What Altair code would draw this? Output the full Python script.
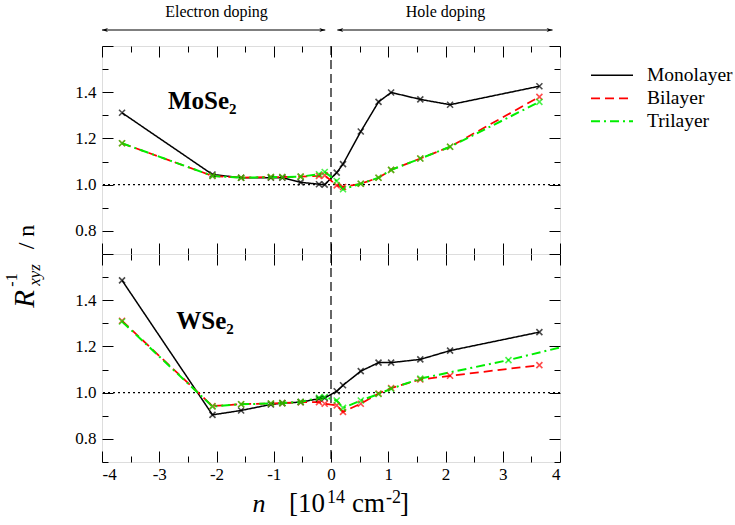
import altair as alt
import pandas as pd

# ---------------- data ----------------
series = ["Monolayer", "Bilayer", "Trilayer"]
colors = ["#000000", "#ff0000", "#00ee00"]
dashes = [[1, 0], [9, 5], [9, 4, 2, 4]]
widths = [1.5, 2.0, 2.0]

# carrier density n [10^14 cm^-2]
n_pts = [-3.65, -2.07, -1.57, -1.05, -0.85, -0.53, -0.21, -0.11,
         0.10, 0.21, 0.52, 0.83, 1.05, 1.56, 2.08, 3.64]

mose2_mono = [1.311, 1.044, 1.030, 1.030, 1.030, 1.010, 1.002, 1.000,
              1.052, 1.089, 1.230, 1.358, 1.399, 1.369, 1.346, 1.426]
mose2_bi = [1.179, 1.038, 1.030, 1.033, 1.033, 1.035, 1.038, 1.040,
            0.997, 0.990, 1.004, 1.030, 1.064, 1.113, 1.164, 1.380]
mose2_tri = [1.179, 1.038, 1.030, 1.033, 1.033, 1.035, 1.045, 1.055,
             1.016, 0.980, 1.004, 1.030, 1.064, 1.113, 1.164, 1.358]

wse2_mono = [1.486, 0.904, 0.923, 0.949, 0.955, 0.959, 0.974, 0.977,
             1.006, 1.032, 1.093, 1.130, 1.130, 1.144, 1.182, 1.262]
wse2_bi = [1.311, 0.942, 0.950, 0.953, 0.955, 0.959, 0.959, 0.952,
           0.945, 0.917, 0.952, 0.996, 1.020, 1.057, 1.073, 1.119]
wse2_tri_n = [-3.65, -2.07, -1.57, -1.05, -0.85, -0.53, -0.21, -0.11,
              0.10, 0.21, 0.52, 0.83, 1.05, 1.56, 3.10, 4.60]
wse2_tri = [1.308, 0.940, 0.950, 0.953, 0.955, 0.960, 0.978, 0.981,
            0.966, 0.934, 0.966, 0.994, 1.017, 1.061, 1.141, 1.232]

x_major = [-4, -3, -2, -1, 0, 1, 2, 3, 4]
x_minor = [-3.5, -2.5, -1.5, -0.5, 0.5, 1.5, 2.5, 3.5]
y_major = [0.8, 1.0, 1.2, 1.4, 1.6]
y_minor = [0.7, 0.9, 1.1, 1.3, 1.5]
y_labels = [0.8, 1.0, 1.2, 1.4]

doping_labels = ["Electron doping", "Hole doping"]
doping_start = [-4.0, 0.11]
doping_end = [-0.10, 3.87]
doping_center = [-2.0, 2.0]

FONT = "Liberation Serif"
W, H = 458, 208


def make_df(n_lists, v_lists):
    rows = []
    for s, ns, vs in zip(series, n_lists, v_lists):
        for i, (n, v) in enumerate(zip(ns, vs)):
            rows.append({"n": n, "v": v, "series": s, "idx": i})
    return pd.DataFrame(rows)


xs = alt.Scale(domain=[-4, 4], nice=False, zero=False)
ys = alt.Scale(domain=[0.7, 1.6], nice=False, zero=False)
cs = alt.Scale(domain=series, range=colors)
ds = alt.Scale(domain=series, range=dashes)
ws = alt.Scale(domain=series, range=widths)

legend = alt.Legend(orient="none", legendX=488, legendY=18, title=None,
                    symbolType="stroke", symbolSize=1764, symbolStrokeWidth=2,
                    labelFont=FONT, labelFontSize=19.5, labelColor="black",
                    clipHeight=22.5, rowPadding=0, labelOffset=13)

XPATH = "M-1,-1L1,1M-1,1L1,-1"


def tick_axis(orient, values, size):
    return alt.Axis(orient=orient, values=values, tickSize=size, offset=-size,
                    labels=False, domain=False, grid=False, title=None,
                    tickColor="black", tickWidth=1, minExtent=0, maxExtent=0)


def panel(df, name, name_x, name_y, bottom, extra):
    base = alt.Chart(df)
    if bottom:
        xlab = alt.Axis(orient="bottom", values=x_major, ticks=False, domain=False,
                        grid=False, title=None, labelFont=FONT, labelFontSize=17,
                        labelColor="black", labelPadding=4,
                        labelExpr="replace(datum.label, '\u2212', '-')")
    else:
        xlab = None
    ylab = alt.Axis(orient="left", values=y_labels, ticks=False, domain=False,
                    grid=False, title=None, labelFont=FONT, labelFontSize=17,
                    labelColor="black", labelPadding=6, format=".1f")
    lines = base.mark_line(clip=True).encode(
        x=alt.X("n:Q", scale=xs, axis=xlab),
        y=alt.Y("v:Q", scale=ys, axis=ylab),
        color=alt.Color("series:N", scale=cs, legend=legend),
        strokeDash=alt.StrokeDash("series:N", scale=ds, legend=legend),
        strokeWidth=alt.StrokeWidth("series:N", scale=ws, legend=None),
        order=alt.Order("idx:Q"),
    )
    pts = base.mark_point(shape=XPATH, filled=False, size=36, strokeWidth=1.6,
                          clip=True).encode(
        x=alt.X("n:Q", scale=xs, axis=None),
        y=alt.Y("v:Q", scale=ys, axis=None),
        color=alt.Color("series:N", scale=cs, legend=None),
    )
    tick_layers = []
    for xo, yo, sz, xv, yv in [("bottom", "left", 11, x_major, y_major),
                                ("bottom", "left", 6, x_minor, y_minor),
                                ("top", "right", 11, x_major, y_major),
                                ("top", "right", 6, x_minor, y_minor)]:
        tick_layers.append(base.mark_point(opacity=0).encode(
            x=alt.X("n:Q", scale=xs, axis=tick_axis(xo, xv, sz)),
            y=alt.Y("v:Q", scale=ys, axis=tick_axis(yo, yv, sz)),
        ))
    vline = alt.Chart(pd.DataFrame({"n": [0.0]})).mark_rule(
        color="black", strokeDash=[9, 5], strokeWidth=1.2).encode(
        x=alt.X("n:Q", scale=xs, axis=None))
    hline = alt.Chart(pd.DataFrame({"v": [1.0]})).mark_rule(
        color="black", strokeDash=[2, 3], strokeWidth=1.2).encode(
        y=alt.Y("v:Q", scale=ys, axis=None))
    lab = alt.Chart(pd.DataFrame({"n": [name_x], "v": [name_y], "t": [name]})).mark_text(
        font=FONT, fontSize=25, fontWeight="bold", color="black").encode(
        x=alt.X("n:Q", scale=xs, axis=None),
        y=alt.Y("v:Q", scale=ys, axis=None),
        text="t:N")
    layers = [hline, vline, lines, pts, lab] + tick_layers + extra
    return alt.layer(*layers).resolve_axis(x="independent", y="independent").properties(
        width=W, height=H)


df_top = make_df([n_pts, n_pts, n_pts], [mose2_mono, mose2_bi, mose2_tri])
df_bot = make_df([n_pts, n_pts, wse2_tri_n], [wse2_mono, wse2_bi, wse2_tri])

# doping arrows (top annotation)
arr_df = pd.DataFrame({"a": doping_start, "b": doping_end, "c": doping_center,
                       "t": doping_labels})
arrow_line = alt.Chart(arr_df).mark_rule(color="black", strokeWidth=1.2).encode(
    x=alt.X("a:Q", scale=xs, axis=None), x2="b:Q", y=alt.value(-16))
head_l = alt.Chart(arr_df).mark_point(shape="M0,0L2,-0.7L1.4,0L2,0.7Z", filled=True,
                                      size=36, color="black", opacity=1).encode(
    x=alt.X("a:Q", scale=xs, axis=None), y=alt.value(-16))
head_r = alt.Chart(arr_df).mark_point(shape="M0,0L-2,-0.7L-1.4,0L-2,0.7Z", filled=True,
                                      size=36, color="black", opacity=1).encode(
    x=alt.X("b:Q", scale=xs, axis=None), y=alt.value(-16))
arrow_txt = alt.Chart(arr_df).mark_text(font=FONT, fontSize=16, color="black",
                                        baseline="middle").encode(
    x=alt.X("c:Q", scale=xs, axis=None), y=alt.value(-34), text="t:N")

# axis titles composed from text pieces
t_df = pd.DataFrame({"k": [0]})
def txt(text, x, y, size, style="normal", angle=0, align="center", baseline="alphabetic"):
    return alt.Chart(t_df).mark_text(text=text, font=FONT, fontSize=size, fontStyle=style,
                                     angle=angle, align=align, baseline=baseline,
                                     color="black").encode(x=alt.value(x), y=alt.value(y))

x_title = [txt("n", 157, 258, 26, "italic"),
           txt("[10", 187, 258, 27, align="left"),
           txt("14", 225, 249, 18, align="left"),
           txt("cm", 250, 258, 27, align="left"),
           txt("-2", 284, 249, 18, align="left"),
           txt("]", 298, 258, 27, align="left")]
y_title = [txt("R", -68, 45, 29, "italic", angle=270),
           txt("-1", -85, 26, 16, angle=270),
           txt("xyz", -62, 21, 17, "italic", angle=270),
           txt("/ n", -68, -17, 24, angle=270)]

top = panel(df_top, "MoSe\u2082", -2.25, 1.36, False,
            [arrow_line, head_l, head_r, arrow_txt])
bot = panel(df_bot, "WSe\u2082", -2.2, 1.31, True, x_title + y_title)

chart = alt.vconcat(top, bot, spacing=0, bounds="flush").resolve_scale(
    color="shared", strokeDash="shared").properties(
    padding={"left": 3, "top": 3, "right": 0, "bottom": 2}
).configure_view(stroke="black", strokeWidth=1.2).configure(background="white")

chart.save("out.html", embed_options={"renderer": "svg", "actions": False})
